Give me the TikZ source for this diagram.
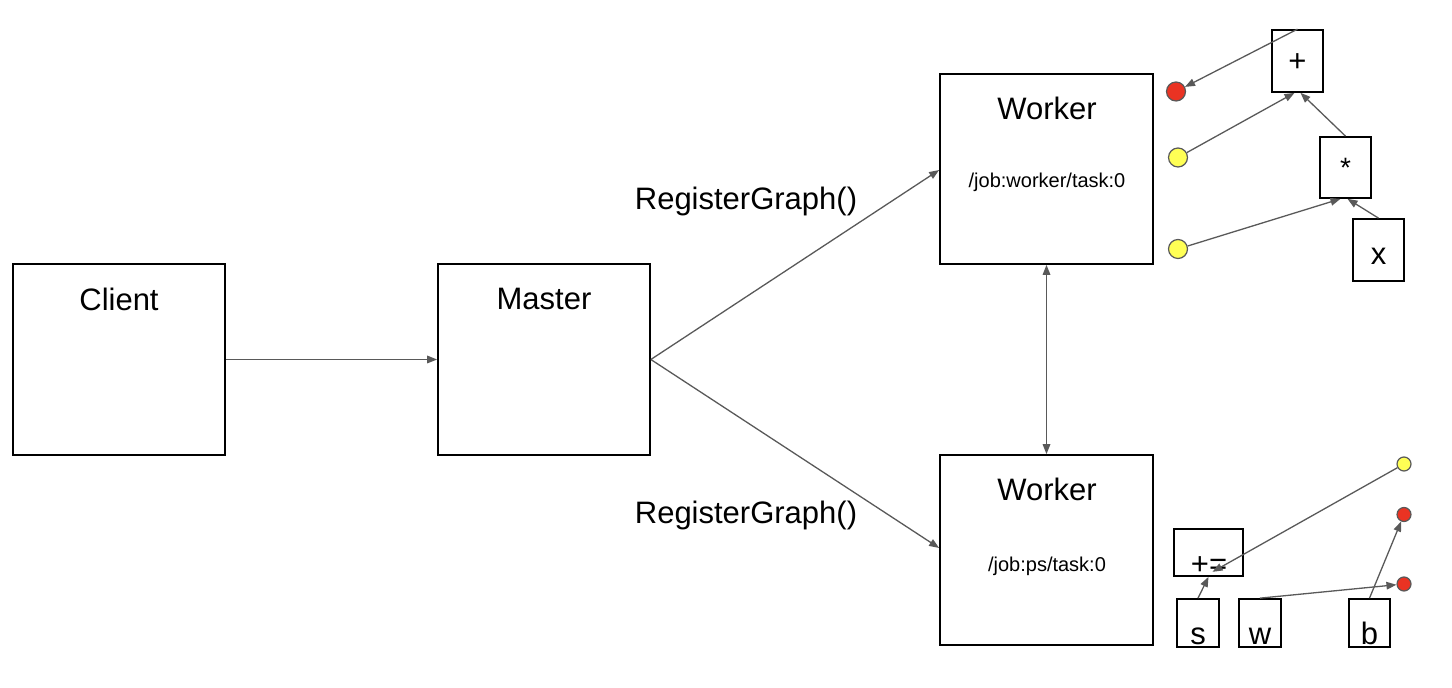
\documentclass[tikz,border=0pt]{standalone}
\usepackage{fontspec}
\setmainfont{Liberation Sans}
\usetikzlibrary{arrows.meta}
\definecolor{lg}{HTML}{595959}
\definecolor{rd}{HTML}{EA3323}
\definecolor{yl}{HTML}{FFFF55}
\tikzset{
  box/.style={draw=black, line width=0.85pt, inner sep=0pt, fill=white},
  big/.style={font=\fontsize{15.5}{18}\selectfont, inner sep=0pt},
  small/.style={font=\fontsize{10}{12}\selectfont, inner sep=0pt},
  conn/.style={draw=lg, line width=0.65pt, -{Triangle[length=5pt,width=3.8pt]}},
  dconn/.style={draw=lg, line width=0.65pt, {Triangle[length=5pt,width=3.8pt]}-{Triangle[length=5pt,width=3.8pt]}},
  dotbig/.style={circle, draw=lg, line width=0.6pt, minimum size=9.5pt, inner sep=0pt},
  dotsmall/.style={circle, draw=lg, line width=0.6pt, minimum size=7pt, inner sep=0pt},
}
\begin{document}
\begin{tikzpicture}[x=0.5pt, y=-0.5pt]
\useasboundingbox (0,0) rectangle (1452,688);
% main boxes
\node[box, minimum width=106pt, minimum height=95.5pt] (client) at (119,359.5) {};
\node[box, minimum width=106pt, minimum height=95.5pt] (master) at (544,359.5) {};
\node[box, minimum width=106.5pt, minimum height=95pt] (w1) at (1046.5,169) {};
\node[box, minimum width=106.5pt, minimum height=95pt] (w2) at (1046.5,550) {};
\node[big] (tclient) at (119,299) {Client};
\node[big] (tmaster) at (544,299) {Master};
\node[big] (tw1) at (1047,108) {Worker};
\node[big] (tw2) at (1047,489) {Worker};
\node[small] (sw1) at (1047,182) {/job:worker/task:0};
\node[small] (sw2) at (1047,566) {/job:ps/task:0};
\node[big] (rg1) at (746,201) {RegisterGraph()};
\node[big] (rg2) at (746,515) {RegisterGraph()};
% main connectors
\draw[conn] (client.east) -- (master.west);
\draw[conn] (master.east) -- ([yshift=-0.5pt]w1.west);
\draw[conn] (master.east) -- ([yshift=1pt]w2.west);
\draw[dconn] (w1.south) -- (w2.south |- w2.north);
% top graph
\node[box, minimum width=25.5pt, minimum height=31pt] (plus) at (1297.5,61) {};
\node[big] (tplus) at (1297.5,63) {+};
\node[box, minimum width=25.5pt, minimum height=30.5pt] (star) at (1345.5,167.5) {};
\node[inner sep=0pt, font=\fontsize{14}{16}\selectfont] (tstar) at (1345.5,168) {*};
\node[box, minimum width=25.5pt, minimum height=31pt] (xb) at (1378.5,250) {};
\node[big, anchor=base] (tx) at (1378.5,265) {x};
\node[dotbig, fill=rd] (r1) at (1176,91.5) {};
\node[dotbig, fill=yl] (y1) at (1178,157.5) {};
\node[dotbig, fill=yl] (y2) at (1178,249) {};
\draw[conn] (plus.north) -- (r1);
\draw[conn] (y1) -- ([xshift=-1.5pt]plus.south);
\draw[conn] (star.north) -- ([xshift=1.5pt]plus.south);
\draw[conn] (y2) -- ([xshift=-2.5pt]star.south);
\draw[conn] (xb.north) -- ([xshift=1pt]star.south);
% bottom graph
\node[box, minimum width=34.5pt, minimum height=23.5pt] (pe) at (1208.5,552.5) {};
\node[big, anchor=base] (tpe) at (1209,575) {+=};
\node[box, minimum width=21pt, minimum height=24pt] (s) at (1198,623) {};
\node[box, minimum width=21pt, minimum height=24pt] (w) at (1260,623) {};
\node[box, minimum width=20.5pt, minimum height=24pt] (b) at (1369.5,623) {};
\node[big, anchor=base] (ts) at (1198,645) {s};
\node[big, anchor=base] (tw) at (1260,645) {w};
\node[big, anchor=base] (tb) at (1369.5,645) {b};
\node[dotsmall, fill=yl] (y3) at (1404,464) {};
\node[dotsmall, fill=rd] (r2) at (1404,514.5) {};
\node[dotsmall, fill=rd] (r3) at (1404,584) {};
\draw[conn] (y3) -- ([xshift=2pt,yshift=2.5pt]pe.south);
\draw[conn] (s.north) -- (pe.south);
\draw[conn] (w.north) -- (r3);
\draw[conn] (b.north) -- (r2);
\end{tikzpicture}
\end{document}
